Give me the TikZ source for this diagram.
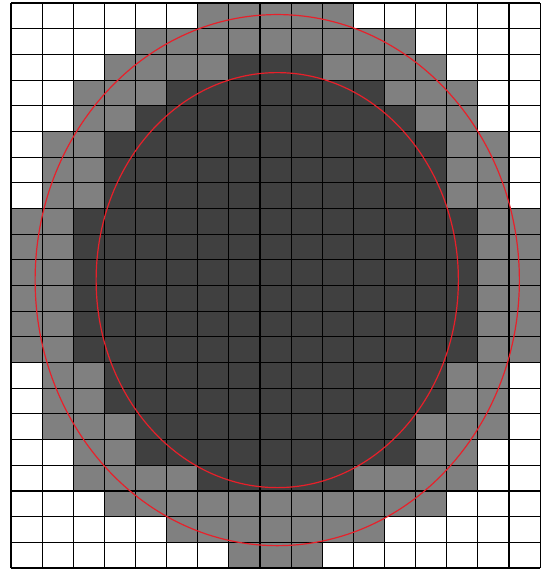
\documentclass[tikz,border=0pt]{standalone}
\usepackage{tikz}
\definecolor{CellGray}{HTML}{808080}
\definecolor{CellDark}{HTML}{404040}
\definecolor{RimRed}{HTML}{E8202A}

\begin{document}
\begin{tikzpicture}[
  x=15.56pt,y=-12.84pt,
  cellgray/.style={
    fill=CellGray
  },
  celldark/.style={
    fill=CellDark
  },
  gridline/.style={
    draw=black,
    line width=0.55pt
  },
  rim/.style={
    draw=RimRed,
    line width=0.6pt
  }
]
\useasboundingbox (-0.3535,-0.117) rectangle (17.032,22.117);

% -------------------------------------------------
% Outer band (row / first col / last col)
% -------------------------------------------------
\foreach \r/\a/\b in {0/6/10,1/4/12,2/3/13,3/2/14,4/2/14,5/1/15,6/1/15,7/1/15,
  8/0/16,9/0/16,10/0/16,11/0/16,12/0/16,13/0/16,14/1/15,15/1/15,16/1/15,
  17/2/14,18/2/14,19/3/13,20/5/11,21/7/9}
  \fill[cellgray] (\a,\r) rectangle ({\b+1},{\r+1});

% -------------------------------------------------
% Inner core
% -------------------------------------------------
\foreach \r/\a/\b in {2/7/9,3/5/11,4/4/12,5/3/13,6/3/13,7/3/13,
  8/2/14,9/2/14,10/2/14,11/2/14,12/2/14,13/2/14,14/3/13,15/3/13,
  16/4/12,17/4/12,18/6/10}
  \fill[celldark] (\a,\r) rectangle ({\b+1},{\r+1});

% -------------------------------------------------
% Grid and the two ellipses
% -------------------------------------------------
\foreach \i in {0,...,17}
  \draw[gridline] (\i,0) -- (\i,22);
\foreach \j in {0,...,22}
  \draw[gridline] (0,\j) -- (17,\j);

\coordinate (centre) at (8.555,10.79);
\draw[rim] (centre) ellipse [x radius=7.78,y radius=10.34];
\draw[rim] (centre) ellipse [x radius=5.82,y radius=8.08];

\end{tikzpicture}
\end{document}
